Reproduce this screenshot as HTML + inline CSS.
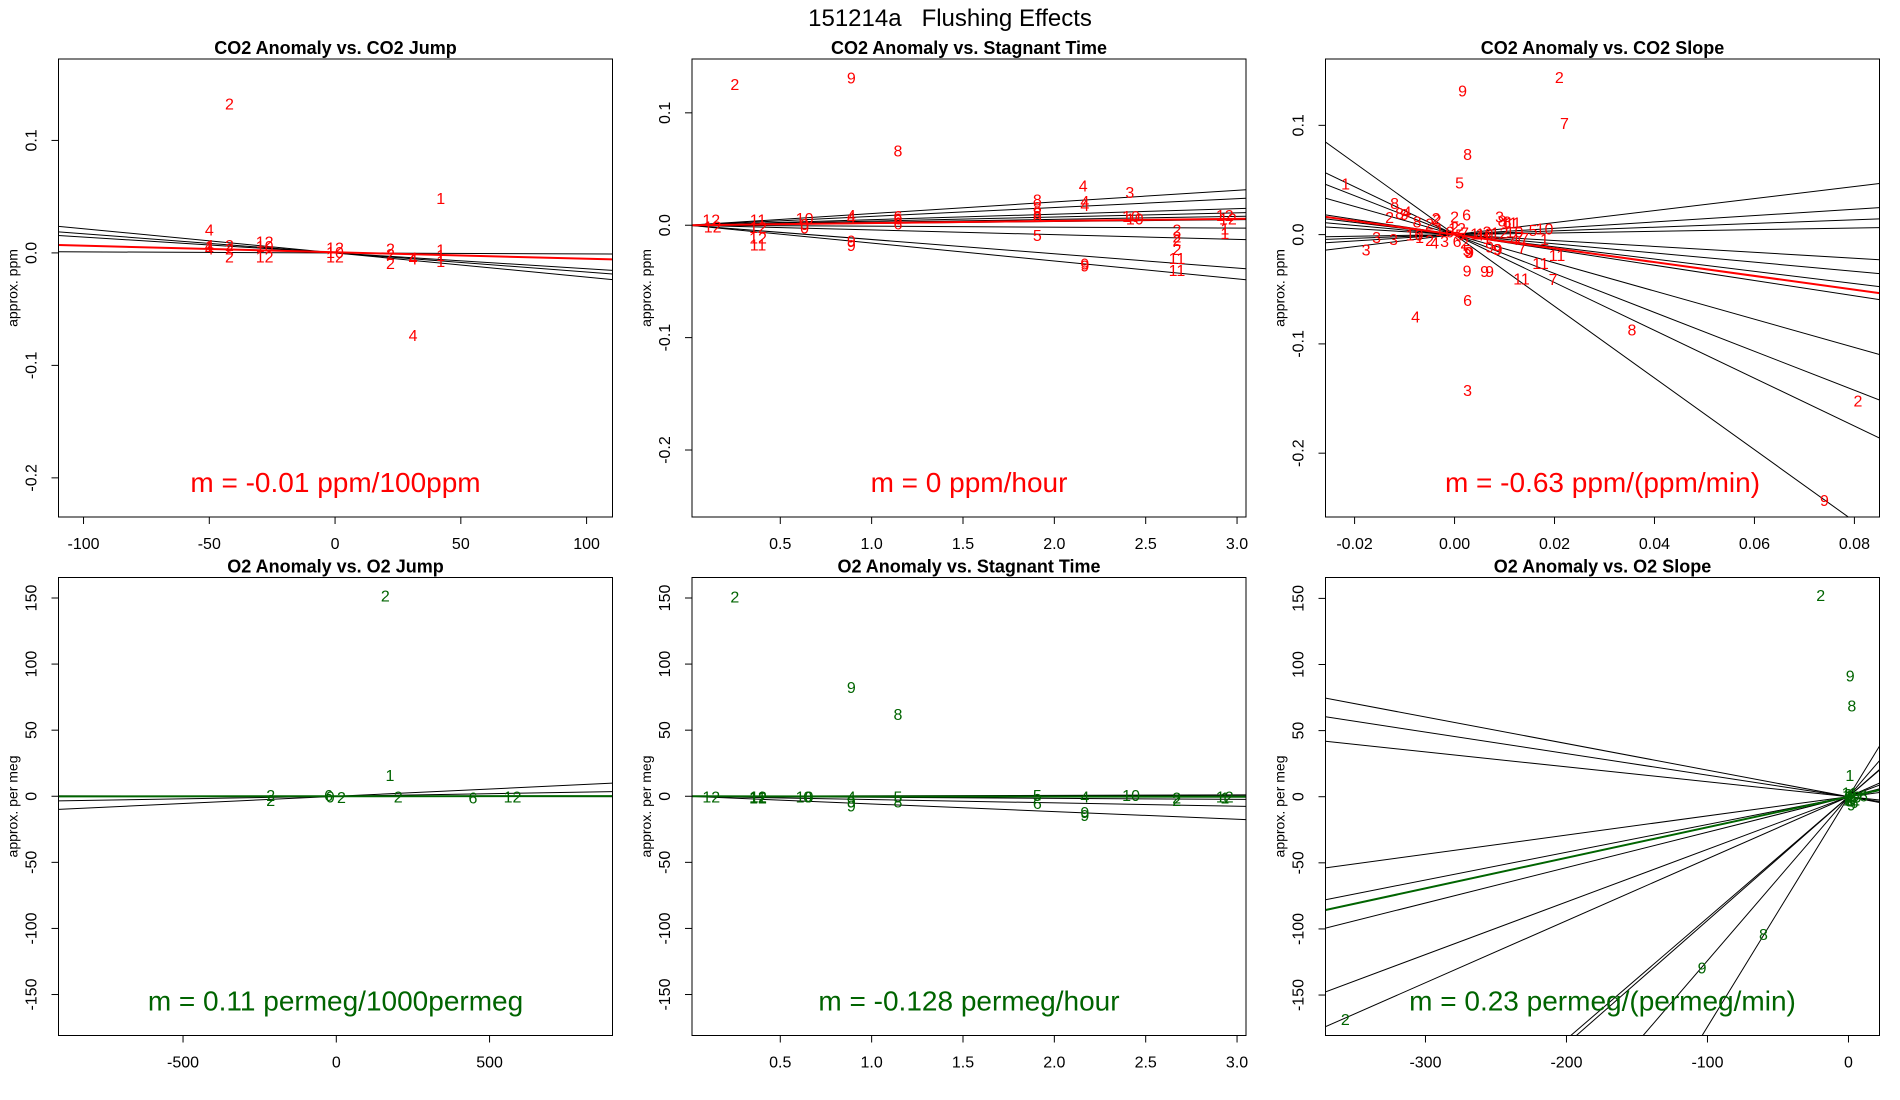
<!DOCTYPE html>
<html><head><meta charset="utf-8"><style>
html,body{margin:0;padding:0;background:#fff;width:1900px;height:1100px;overflow:hidden;}
svg{display:block;font-family:"Liberation Sans",Arial,sans-serif;}
</style></head><body>
<svg id="chart" width="1900" height="1100" viewBox="0 0 1900 1100" xmlns="http://www.w3.org/2000/svg">
<rect x="0" y="0" width="1900" height="1100" fill="#fff"/>
<text x="950" y="26" font-size="24" text-anchor="middle" xml:space="preserve" style="white-space:pre">151214a   Flushing Effects</text>
</svg>
<script>
// ---------- data ----------
const p1Labels=["2","1","4","4","4","4","1","2","2","2","12","10","12","12","10","12","2","2","2","4","4","1","1","1"];
const p1X=[-42,42,31,-50,-50,-50,-50,-42,-42,-42,-28,-28,-28,0,0,0,22,22,22,31,31,42,42,42];
const p1Y=[0.133,0.049,-0.073,0.021,0.007,0.004,0.006,0.007,0.004,-0.003,0.010,0.006,-0.003,0.005,0.001,-0.003,0.004,-0.001,-0.009,-0.004,-0.005,0.003,-0.002,-0.007];
const p1Slopes=[-0.000215,-0.000170,-0.000141,-0.0000091];
const p1Fit=[0.0006,-0.000058];

const p2Labels=["2","9","8","4","3","8","4","4","5","9","9","2","2","2","2","11","11","12","12","1","1","9","9","4","4","6","6","6","10","0","0","11","12","12","11","12","12","8","8","8","10","10"];
const p2X=[0.251,0.889,1.144,2.158,2.413,1.907,2.167,2.167,1.907,2.167,2.167,2.671,2.671,2.671,2.671,2.671,2.671,2.933,2.95,2.933,2.933,0.889,0.889,0.889,0.889,1.144,1.144,1.144,0.633,0.633,0.633,0.378,0.378,0.378,0.378,0.122,0.13,1.907,1.907,1.907,2.42,2.44];
const p2Y=[0.1256,0.1316,0.0665,0.0355,0.0294,0.023,0.0217,0.018,-0.0086,-0.034,-0.036,-0.004,-0.010,-0.013,-0.021,-0.029,-0.040,0.009,0.006,-0.003,-0.007,-0.0137,-0.0176,0.009,0.007,0.008,0.006,0.0016,0.0064,0.001,-0.002,0.005,-0.0016,-0.011,-0.017,0.005,-0.001,0.016,0.011,0.008,0.008,0.006];
const p2Slopes=[0.01036,0.00787,0.00492,0.00367,0.00262,0.00164,-0.00085,-0.0042,-0.0127,-0.0159];
const p2Fit=[0,0.0019];

const p3Labels=["2","9","7","8","5","1","8","6","2","2","3","8","11","10","5","3","3","3","9","9","9","4","6","3","8","2","9","11","11","11","7","9","9",
"2","8","9","4","8","2","2","10","1","2","4","3","1","6","2","12","5","7","6","2","5","9","1","4","10","1","9","9","3","12","10","7","7","4","1","8","11","7"];
const p3X=[0.02095,0.0016,0.022,0.0026,0.001,-0.0218,-0.012,0.0024,0.0,-0.0037,0.009,0.0105,0.0117,0.018,0.0157,-0.0156,-0.0122,-0.0177,0.0025,0.006,0.007,-0.0078,0.0026,0.0026,0.0355,0.0807,0.074,0.0205,0.0172,0.0134,0.0197,0.0087,0.0028,
-0.013,-0.011,-0.010,-0.0095,-0.0075,-0.005,-0.0035,-0.008,-0.007,-0.005,-0.004,-0.002,-0.003,-0.001,0.0,0.0005,0.001,0.002,0.0005,0.002,0.0025,0.003,0.004,0.005,0.006,0.0065,0.007,0.0085,0.0065,0.009,0.012,0.013,0.014,0.012,0.018,0.0095,0.011,0.0135];
const p3Y=[0.1443,0.1321,0.102,0.0738,0.0475,0.0469,0.0289,0.0184,0.0164,0.015,0.0167,0.012,0.011,0.0056,0.0043,-0.0023,-0.0039,-0.0138,-0.0328,-0.0334,-0.0334,-0.0748,-0.06,-0.1423,-0.0869,-0.1518,-0.243,-0.0187,-0.0262,-0.04,-0.0407,-0.013,-0.016,
0.016,0.020,0.019,0.021,0.012,0.010,0.014,0.000,-0.002,-0.005,-0.007,-0.006,0.004,0.003,0.007,0.006,0.000,0.002,-0.006,-0.007,-0.014,-0.016,0.001,0.000,0.001,-0.003,-0.011,-0.013,0.003,0.002,0.003,-0.002,-0.003,-0.004,-0.004,0.013,0.011,-0.012];
const p3Slopes=[0.55,0.29,0.17,0.075,-0.27,-0.42,-0.56,-0.70,-1.29,-1.78,-2.19,-3.28];
const p3Fit=[0,-0.63];

const p4Labels=["2","1","2","2","6","0","2","2","6","12"];
const p4X=[160,175,-214,-214,-25,-20,17,202,446,575];
const p4Y=[152,16,1,-3,1,0,-0.5,0,-1,0];
const p4Slopes=[0.011,0.0039,-0.0003];
const p4Fit=[0,0.00011];

const p5Labels=["2","9","8","12","12","12","11","10","0","4","9","9","5","8","5","6","4","9","9","10","2","2","12","1"];
const p5X=[0.251,0.889,1.144,0.122,0.378,0.378,0.378,0.633,0.65,0.889,0.889,0.889,1.144,1.144,1.907,1.907,2.167,2.167,2.167,2.42,2.67,2.67,2.933,2.933];
const p5Y=[151,82.8,62.4,0,0,-1,0,0,0,0,-4,-7,0,-4,1,-5,0,-12,-14,1,-1,-3,0,-1];
const p5Slopes=[0.33,0.1,-0.78,-2.5,-5.8];
const p5Fit=[0,-0.128];

const p6Labels=["2","9","8","1","8","9","2","3","4","5","6","7","10","11","12","0","6","9","5","6"];
const p6X=[-19.7,1.2,2.4,1,-60.3,-103.8,-356.8,0,1,2,0,-1,3,1,2,0,4,2,3,10.6];
const p6Y=[152.7,91.7,68.9,16.5,-104,-129,-168,2,-1,1,-3,0,0,3,-2,0,-4,-6,-1,1];
const p6Slopes=[-0.201,-0.163,-0.113,0.145,0.210,0.268,0.398,0.469,0.917,0.936,1.24,1.74];
const p6Fit=[0,0.231];

const co2YTicks=[0.1,0.0,-0.1,-0.2];
const co2YTickLabels=["0.1","0.0","-0.1","-0.2"];
const o2YTicks=[150,100,50,0,-50,-100,-150];
const o2YTickLabels=["150","100","50","0","-50","-100","-150"];
const p1XTicks=[-100,-50,0,50,100];
const p1XTickLabels=["-100","-50","0","50","100"];
const timeXTicks=[0.5,1.0,1.5,2.0,2.5,3.0];
const timeXTickLabels=["0.5","1.0","1.5","2.0","2.5","3.0"];
const p3XTicks=[-0.02,0,0.02,0.04,0.06,0.08];
const p3XTickLabels=["-0.02","0.00","0.02","0.04","0.06","0.08"];
const p4XTicks=[-500,0,500];
const p4XTickLabels=["-500","0","500"];
const p6XTicks=[-300,-200,-100,0];
const p6XTickLabels=["-300","-200","-100","0"];

// ---------- rendering ----------
const svg=document.getElementById('chart');
const NS='http://www.w3.org/2000/svg';
function mk(tag,attrs,parent){const e=document.createElementNS(NS,tag);for(const k in attrs)e.setAttribute(k,attrs[k]);(parent||svg).appendChild(e);return e;}

const panels=[
 {id:'co2-jump',col:0,row:0,title:'CO2 Anomaly vs. CO2 Jump',ylab:'approx. ppm',xd:[-109.95,110.3],yd:[-0.2348,0.1724],labels:p1Labels,xs:p1X,ys:p1Y,slopes:p1Slopes,fit:p1Fit,color:'#ff0000',xt:p1XTicks,xtl:p1XTickLabels,yt:co2YTicks,ytl:co2YTickLabels,m:'m = -0.01 ppm/100ppm'},
 {id:'co2-stagnant',col:1,row:0,title:'CO2 Anomaly vs. Stagnant Time',ylab:'approx. ppm',xd:[0.0168,3.049],yd:[-0.2596,0.1479],labels:p2Labels,xs:p2X,ys:p2Y,slopes:p2Slopes,fit:p2Fit,color:'#ff0000',xt:timeXTicks,xtl:timeXTickLabels,yt:co2YTicks,ytl:co2YTickLabels,m:'m = 0 ppm/hour'},
 {id:'co2-slope',col:2,row:0,title:'CO2 Anomaly vs. CO2 Slope',ylab:'approx. ppm',xd:[-0.02582,0.08502],yd:[-0.2584,0.1607],labels:p3Labels,xs:p3X,ys:p3Y,slopes:p3Slopes,fit:p3Fit,color:'#ff0000',xt:p3XTicks,xtl:p3XTickLabels,yt:co2YTicks,ytl:co2YTickLabels,m:'m = -0.63 ppm/(ppm/min)'},
 {id:'o2-jump',col:0,row:1,title:'O2 Anomaly vs. O2 Jump',ylab:'approx. per meg',xd:[-906.3,901.1],yd:[-181,165.5],labels:p4Labels,xs:p4X,ys:p4Y,slopes:p4Slopes,fit:p4Fit,color:'#006400',xt:p4XTicks,xtl:p4XTickLabels,yt:o2YTicks,ytl:o2YTickLabels,m:'m = 0.11 permeg/1000permeg'},
 {id:'o2-stagnant',col:1,row:1,title:'O2 Anomaly vs. Stagnant Time',ylab:'approx. per meg',xd:[0.0168,3.049],yd:[-181,165.5],labels:p5Labels,xs:p5X,ys:p5Y,slopes:p5Slopes,fit:p5Fit,color:'#006400',xt:timeXTicks,xtl:timeXTickLabels,yt:o2YTicks,ytl:o2YTickLabels,m:'m = -0.128 permeg/hour'},
 {id:'o2-slope',col:2,row:1,title:'O2 Anomaly vs. O2 Slope',ylab:'approx. per meg',xd:[-370.9,22.0],yd:[-180.6,165.8],labels:p6Labels,xs:p6X,ys:p6Y,slopes:p6Slopes,fit:p6Fit,color:'#006400',xt:p6XTicks,xtl:p6XTickLabels,yt:o2YTicks,ytl:o2YTickLabels,m:'m = 0.23 permeg/(permeg/min)'}
];

panels.forEach(p=>{
  const L=58.5+633.5*p.col, W=554;
  const T=p.row===0?59:577.5, H=458;
  const B=T+H;
  const sx=v=>L+(v-p.xd[0])/(p.xd[1]-p.xd[0])*W;
  const sy=v=>B-(v-p.yd[0])/(p.yd[1]-p.yd[0])*H;
  const g=mk('g',{});
  
  
  const cp=mk('clipPath',{id:'clip-'+p.id},g);
  mk('rect',{x:L,y:T,width:W,height:H},cp);
  const t=mk('text',{x:L+W/2,y:T-5,'font-size':18,'font-weight':'bold','text-anchor':'middle'},g);
  t.textContent=p.title;
  
  
  const yl=mk('text',{x:0,y:0,'font-size':14,'text-anchor':'middle',transform:`translate(${L-41},${T+H/2}) rotate(-90)`},g);
  yl.textContent=p.ylab;
  
  
  const ya=mk('g',{},g);
  
  
  mk('line',{x1:L,x2:L,y1:sy(p.yt[0]),y2:sy(p.yt[p.yt.length-1]),stroke:'#000','stroke-width':1},ya);
  p.yt.forEach((v,i)=>{
    const y=sy(v);
    mk('line',{x1:L-7,x2:L,y1:y,y2:y,stroke:'#000','stroke-width':1},ya);
    const tl=mk('text',{x:0,y:0,'font-size':16,'text-anchor':'middle',transform:`translate(${L-22},${y}) rotate(-90)`},ya);
    tl.textContent=p.ytl[i];
    
    
  });
  const xa=mk('g',{},g);
  
  
  mk('line',{x1:sx(p.xt[0]),x2:sx(p.xt[p.xt.length-1]),y1:B,y2:B,stroke:'#000','stroke-width':1},xa);
  p.xt.forEach((v,i)=>{
    const x=sx(v);
    mk('line',{x1:x,x2:x,y1:B,y2:B+7,stroke:'#000','stroke-width':1},xa);
    const tl=mk('text',{x:x,y:B+32,'font-size':16,'text-anchor':'middle'},xa);
    tl.textContent=p.xtl[i];
    
    
  });
  const pa=mk('g',{'clip-path':`url(#clip-${p.id})`},g);
  p.slopes.forEach(s=>{
    const l=mk('line',{x1:sx(p.xd[0]),y1:sy(s*p.xd[0]),x2:sx(p.xd[1]),y2:sy(s*p.xd[1]),stroke:'#000','stroke-width':1},pa);
    
    
  });
  p.labels.forEach((lab,i)=>{
    const tx=mk('text',{x:sx(p.xs[i]),y:sy(p.ys[i])+6,'font-size':16,'text-anchor':'middle',fill:p.color},pa);
    tx.textContent=lab;
    
    
  });
  const fl=mk('line',{x1:sx(p.xd[0]),y1:sy(p.fit[0]+p.fit[1]*p.xd[0]),x2:sx(p.xd[1]),y2:sy(p.fit[0]+p.fit[1]*p.xd[1]),stroke:p.color,'stroke-width':2},pa);
  
  
  const mt=mk('text',{x:L+W/2,y:B-25,'font-size':28,'text-anchor':'middle',fill:p.color},g);
  mt.textContent=p.m;
  
  
  const bx=mk('rect',{x:L,y:T,width:W,height:H,fill:'none',stroke:'#000','stroke-width':1},g);
  
  
});
</script>
</body></html>
